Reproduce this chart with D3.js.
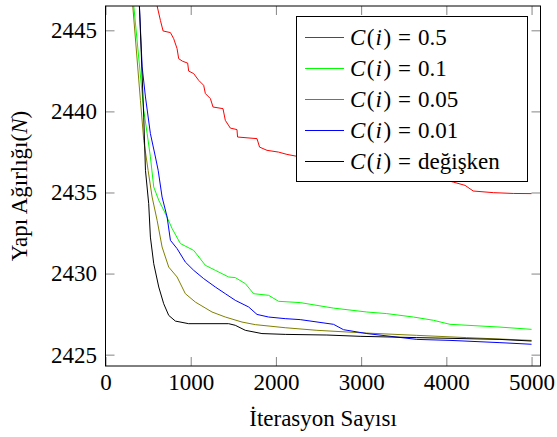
<!DOCTYPE html>
<html>
<head>
<meta charset="utf-8">
<script src="https://cdn.jsdelivr.net/npm/d3@7"></script>
<style>
  body { margin: 0; background: #fff; }
  text, tspan { font-family: 'Liberation Serif', serif !important; }
</style>
</head>
<body>
<div id="chart"></div>
<script>
// best weight found so far, [iteration, weight]
const c05 = [[560, 2447.6], [606, 2446.5], [645, 2445.6], [676, 2444.96], [762, 2444.86], [800, 2444.49],
  [840, 2443.87], [859, 2443.25], [906, 2443.09], [964, 2442.98], [976, 2442.49], [1035, 2442.33],
  [1093, 2441.92], [1152, 2441.61], [1172, 2441.1], [1231, 2440.79], [1262, 2440.27], [1379, 2440.17],
  [1406, 2439.45], [1465, 2438.97], [1543, 2438.88], [1550, 2438.42], [1778, 2438.32], [1808, 2437.8],
  [1895, 2437.6], [2031, 2437.49], [2129, 2437.35], [2247, 2437.23], [2600, 2437.0], [3000, 2436.7],
  [3500, 2436.3], [3900, 2435.9], [4082, 2435.64], [4219, 2435.44], [4316, 2435.09], [4551, 2434.99],
  [4785, 2434.94], [5000, 2434.93]]
const c01 = [[300, 2448.3], [332, 2446.5], [449, 2440.07], [489, 2438.63], [527, 2437.2], [566, 2435.34],
  [625, 2434.52], [703, 2433.7], [782, 2432.77], [879, 2431.85], [1035, 2431.43], [1172, 2430.51],
  [1289, 2430.2], [1445, 2429.79], [1523, 2429.75], [1641, 2429.38], [1738, 2428.76], [1914, 2428.66],
  [2031, 2428.29], [2285, 2428.21], [2676, 2427.87], [3067, 2427.63], [3301, 2427.53], [3613, 2427.32],
  [3848, 2427.12], [4043, 2426.87], [4629, 2426.7], [5000, 2426.56]]
const c005 = [[290, 2448.4], [320, 2446.5], [410, 2440.68], [449, 2438.22], [500, 2436.37], [547, 2434.72],
  [606, 2433.28], [664, 2431.64], [742, 2430.4], [840, 2429.79], [937, 2428.76], [1055, 2428.24],
  [1250, 2427.63], [1406, 2427.32], [1602, 2427.01], [1758, 2426.85], [2109, 2426.66], [2481, 2426.5],
  [3067, 2426.33], [3653, 2426.19], [4239, 2426.05], [5000, 2425.88]]
const c001 = [[385, 2448.0], [398, 2446.5], [430, 2442.74], [469, 2440.89], [527, 2438.63], [586, 2437.19],
  [618, 2436.37], [664, 2434.72], [723, 2433.49], [762, 2432.05], [840, 2431.54], [937, 2430.71],
  [1035, 2430.2], [1152, 2429.69], [1289, 2429.17], [1406, 2428.76], [1523, 2428.35], [1680, 2427.94],
  [1778, 2427.48], [1914, 2427.32], [2109, 2427.22], [2285, 2427.16], [2676, 2426.87], [2793, 2426.54],
  [3067, 2426.3], [3653, 2425.94], [4043, 2425.88], [4629, 2425.74], [5000, 2425.64]]
const cVar = [[380, 2449.0], [398, 2446.5], [449, 2439.65], [469, 2436.37], [507, 2434.31], [527, 2432.25],
  [566, 2430.61], [625, 2429.17], [683, 2428.14], [742, 2427.42], [820, 2427.07], [976, 2426.91],
  [1445, 2426.91], [1523, 2426.81], [1641, 2426.5], [1836, 2426.3], [2109, 2426.25], [2598, 2426.21],
  [2988, 2426.13], [3653, 2426.05], [4629, 2425.94], [5000, 2425.84]]

const labels = ["0.5", "0.1", "0.05", "0.01", "değişken"]
const colors = ["#ff0000", "#00ff00", "#808000", "#0000ff", "#000000"]
const xTicks = [0, 1000, 2000, 3000, 4000, 5000]
const yTicks = [2425, 2430, 2435, 2440, 2445]

const series = [c05, c01, c005, c001, cVar]

const width = 557
const height = 437
const mLeft = 105.5, mRight = 540.5, mTop = 6, mBottom = 366

const svg = d3.select("#chart").append("svg")
  .attr("width", width)
  .attr("height", height)

const x = d3.scaleLinear().domain([0, 5105]).range([mLeft, mRight])
const y = d3.scaleLinear().domain([2424.3, 2446.5]).range([mBottom, mTop])

svg.append("clipPath").attr("id", "plot")
  .append("rect")
  .attr("x", mLeft).attr("y", mTop)
  .attr("width", mRight - mLeft).attr("height", mBottom - mTop)

// ticks, inward on all four sides
const tickStyle = g => {
  g.attr("font-family", null).attr("font-size", null)
  g.select(".domain").remove()
  g.selectAll(".tick line").attr("stroke", "#777").attr("stroke-width", 0.9)
  g.selectAll("text").style("font-size", "23px").attr("fill", "#000")
}

svg.append("g")
  .attr("transform", `translate(0,${mBottom})`)
  .call(d3.axisBottom(x).tickValues(xTicks).tickSizeInner(-9).tickSizeOuter(0).tickFormat(d3.format("d")))
  .call(tickStyle)
  .call(g => g.selectAll("text").attr("dy", null).attr("y", 24))

svg.append("g")
  .attr("transform", `translate(0,${mTop})`)
  .call(d3.axisTop(x).tickValues(xTicks).tickSizeInner(-9).tickSizeOuter(0).tickFormat(""))
  .call(tickStyle)

svg.append("g")
  .attr("transform", `translate(${mLeft},0)`)
  .call(d3.axisLeft(y).tickValues(yTicks).tickSizeInner(-9).tickSizeOuter(0).tickFormat(d3.format("d")))
  .call(tickStyle)
  .call(g => g.selectAll("text").attr("x", -8.5))

svg.append("g")
  .attr("transform", `translate(${mRight},0)`)
  .call(d3.axisRight(y).tickValues(yTicks).tickSizeInner(-9).tickSizeOuter(0).tickFormat(""))
  .call(tickStyle)

const line = d3.line()
  .x(d => x(d[0]))
  .y(d => y(d[1]))

svg.append("g")
  .attr("clip-path", "url(#plot)")
  .selectAll("path")
  .data(series)
  .join("path")
  .attr("d", line)
  .attr("fill", "none")
  .attr("stroke", (d, i) => colors[i])
  .attr("stroke-width", 1)

svg.append("rect")
  .attr("x", mLeft).attr("y", mTop)
  .attr("width", mRight - mLeft).attr("height", mBottom - mTop)
  .attr("fill", "none")
  .attr("stroke", "#000")
  .attr("stroke-width", 1)

// legend
const legend = svg.append("g")
legend.append("rect")
  .attr("x", 296.5).attr("y", 16.5)
  .attr("width", 231).attr("height", 165)
  .attr("fill", "#fff")
  .attr("stroke", "#000")
  .attr("stroke-width", 1)

const rows = legend.selectAll(".row")
  .data(labels)
  .join("g")
  .attr("transform", (d, i) => `translate(0,${37.5 + i * 31})`)

rows.append("line")
  .attr("x1", 305).attr("x2", 344)
  .attr("stroke", (d, i) => colors[i])
  .attr("stroke-width", 1)

const lt = rows.append("text")
  .attr("x", 350)
  .attr("y", 7.8)
  .style("font-size", "23px")
lt.append("tspan").style("font-style", "italic").text("C")
lt.append("tspan").attr("dx", 1.5).text("(")
lt.append("tspan").style("font-style", "italic").attr("dx", 1).text("i")
lt.append("tspan").attr("dx", 1.5).text(")")
lt.append("tspan").attr("dx", 7).text("=")
lt.append("tspan").attr("dx", 7).text(d => d)

// axis titles
svg.append("text")
  .attr("x", (mLeft + mRight) / 2)
  .attr("y", 426)
  .attr("text-anchor", "middle")
  .style("font-size", "23px")
  .text("İterasyon Sayısı")

const yl = svg.append("text")
  .attr("transform", `translate(27,${(mTop + mBottom) / 2}) rotate(-90)`)
  .attr("text-anchor", "middle")
  .style("font-size", "23px")
yl.append("tspan").text("Yapı Ağırlığı(")
yl.append("tspan").style("font-style", "italic").text("N")
yl.append("tspan").text(")")
</script>
</body>
</html>
